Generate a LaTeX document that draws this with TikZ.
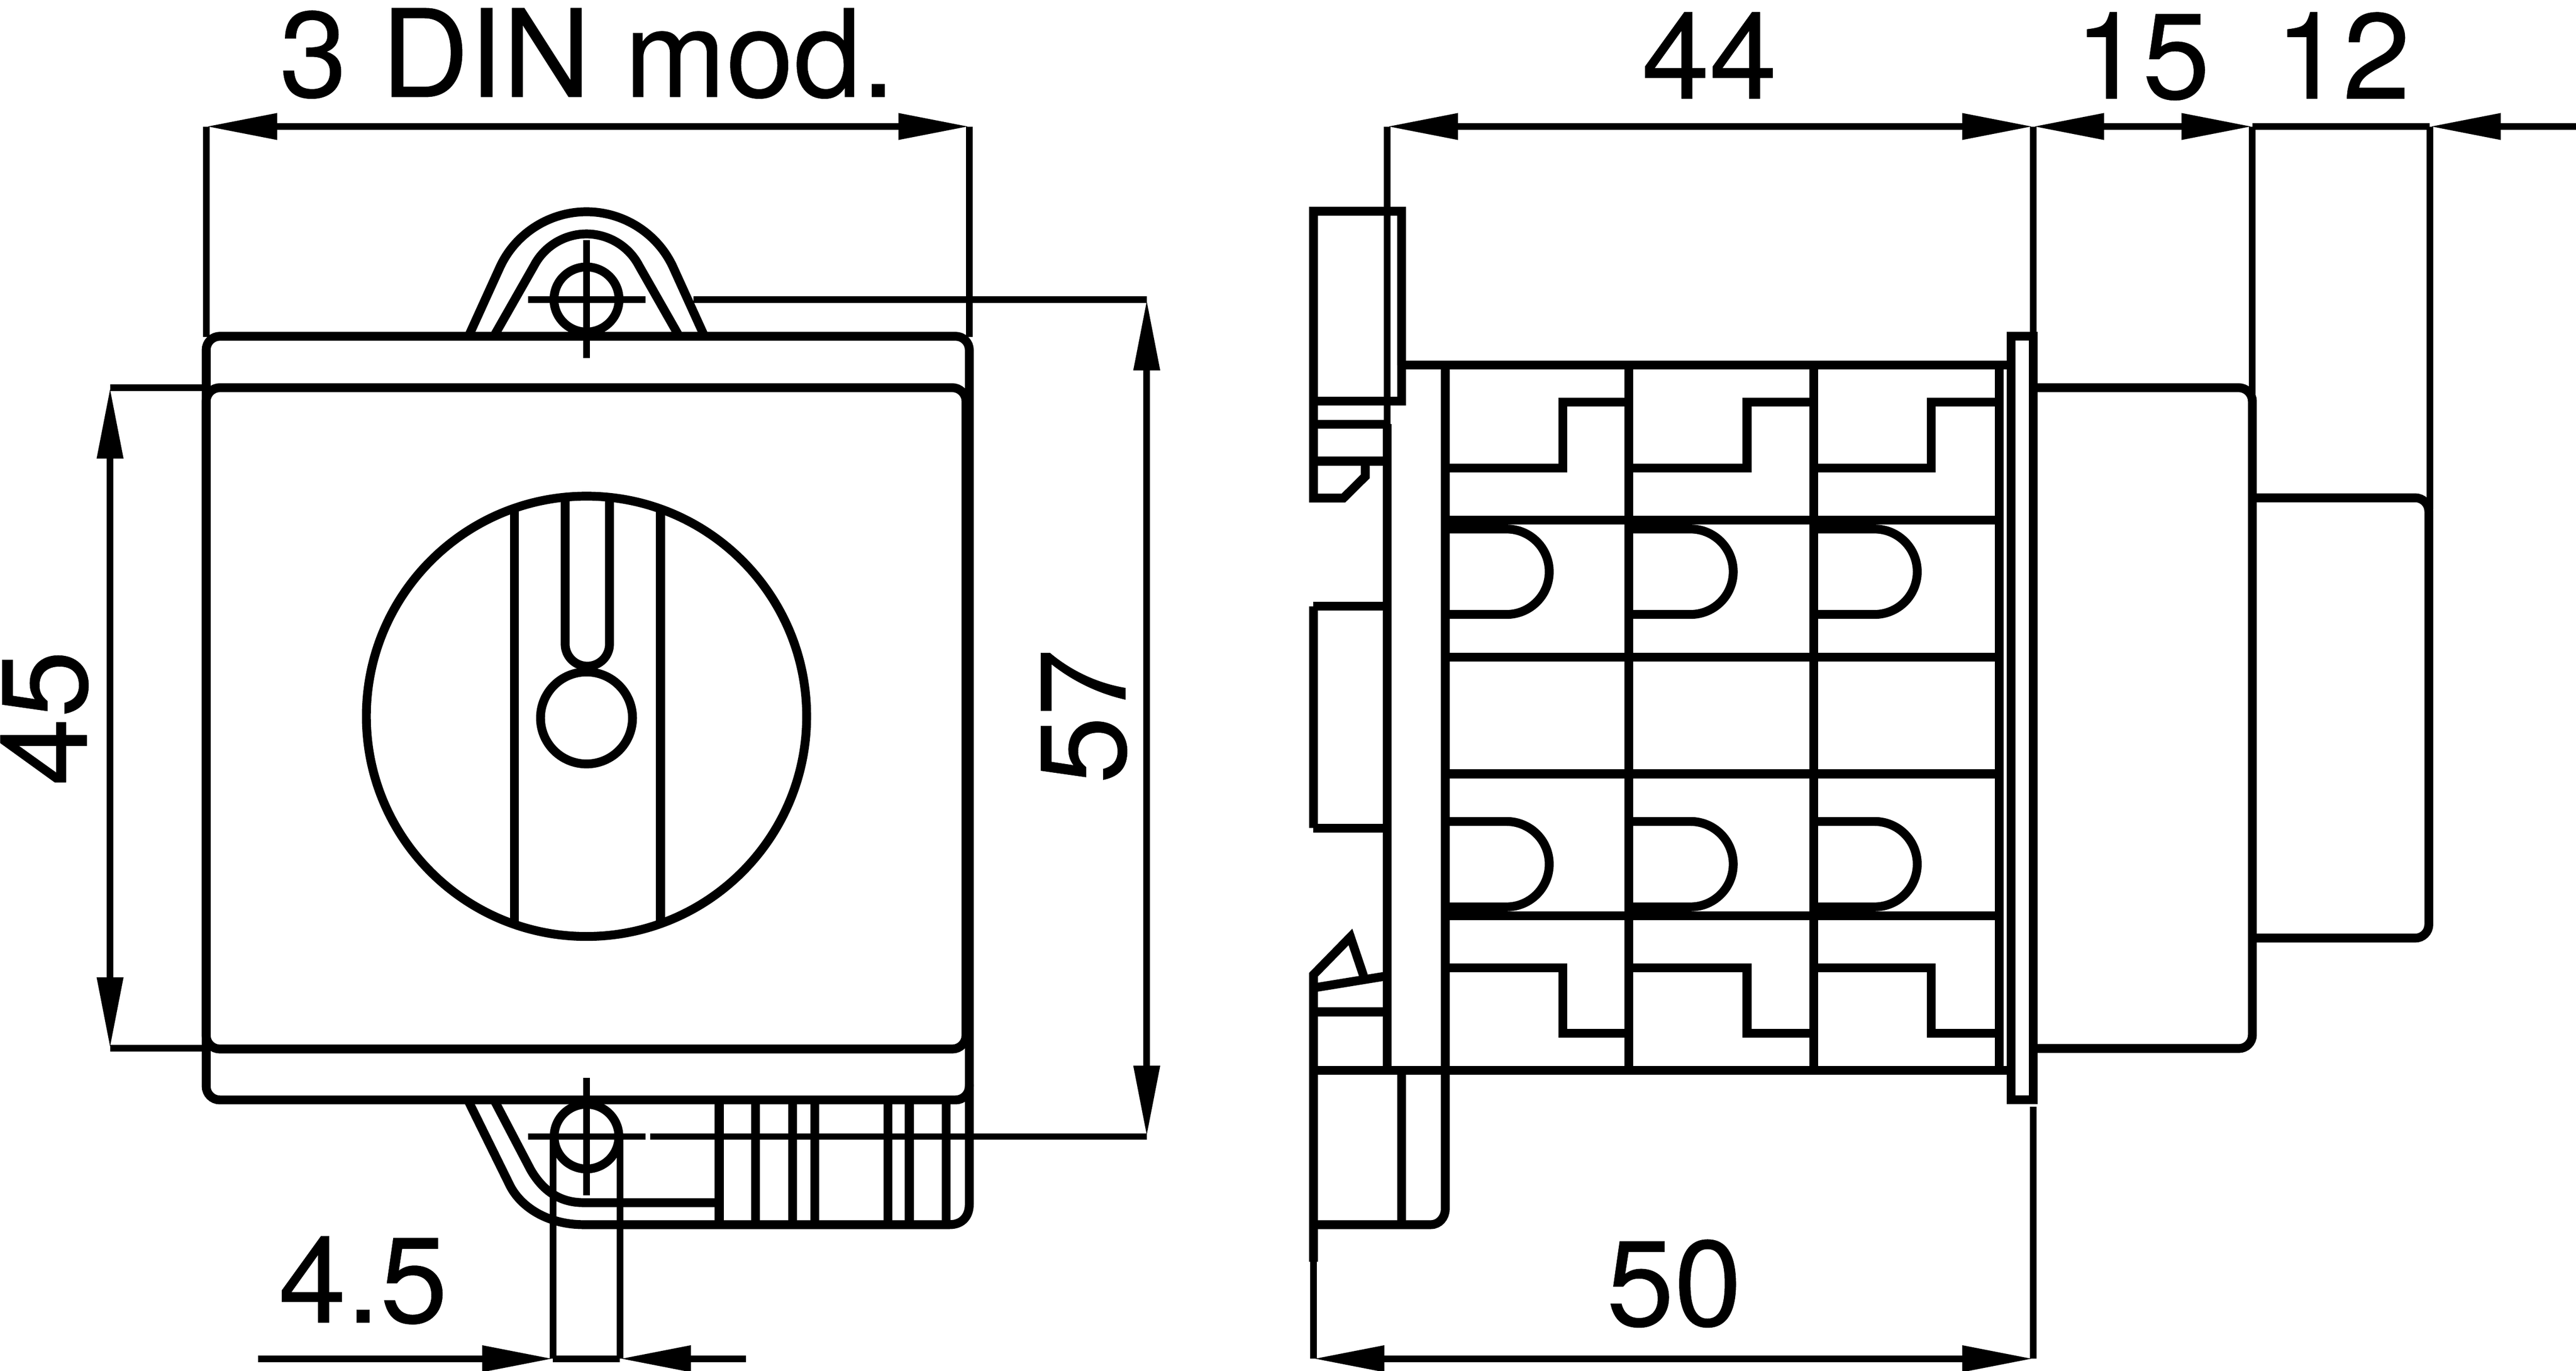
\documentclass[tikz,border=0pt]{standalone}
\usepackage{fontspec}
\setmainfont{TeX Gyre Heros}
\usetikzlibrary{arrows.meta}
\tikzset{every picture/.style={line width=1.95pt}}
\tikzset{heavy/.style={line width=1.95pt}}
\tikzset{thin line/.style={line width=1.45pt}}
\tikzset{dim/.style={line width=1.45pt,{Triangle[length=15.6pt,width=5.5pt]}-{Triangle[length=15.6pt,width=5.5pt]}}}
\tikzset{dim end/.style={line width=1.45pt,-{Triangle[length=15.6pt,width=5.5pt]}}}
\tikzset{dim text/.style={inner sep=0pt,font=\fontsize{26.8}{30}\selectfont\addfontfeature{FakeBold=0.25}}}

\begin{document}
\begin{tikzpicture}[x=0.36155pt,y=0.36155pt,yscale=-1,xscale=1]
\useasboundingbox (0,0) rectangle (1568,834.2);

%Front view: housing
\draw [heavy,rounded corners=3pt] (125.5,204.7) rectangle (590,669.5);
\draw [heavy,rounded corners=3pt] (125.5,236) rectangle (588,638.5);
%Top lug
\draw [heavy] (285.5,204) -- (304.4,162.4) .. controls (313.9,142) and (334.5,128.9) .. (357,128.9) .. controls (379.5,128.9) and (400.1,142) .. (409.6,162.4) -- (428.5,204);
\draw [heavy] (301,204) -- (325.2,161.5) .. controls (331.4,149.8) and (343.7,142.4) .. (357,142.4) .. controls (370.3,142.4) and (382.6,149.8) .. (388.8,161.5) -- (413,204);
\draw [heavy] (357,182.3) circle [radius=19.8];
\draw [thin line] (357,146.2) -- (357,218);
\draw [thin line] (321.3,182.3) -- (392.8,182.3);
%Bottom lug
\draw [heavy] (285,670) -- (310.6,722) .. controls (318,736) and (335,745.4) .. (355,745.4) -- (578,745.4) .. controls (586,745.4) and (590,740) .. (590,733) -- (590,660);
\draw [heavy] (301,670) -- (323,712) .. controls (330,724) and (340,732) .. (355,732) -- (438,732);
\draw [heavy] (357,691.8) circle [radius=19.7];
\draw [thin line] (357,656) -- (357,727.7);
\draw [thin line] (321.3,691.8) -- (393,691.8);
%Ribs
\draw [heavy] (437.8,669.5) -- (437.8,745.4);
\draw [heavy] (460,669.5) -- (460,745.4);
\draw [heavy] (482.4,669.5) -- (482.4,745.4);
\draw [heavy] (496,669.5) -- (496,745.4);
\draw [heavy] (540.5,669.5) -- (540.5,745.4);
\draw [heavy] (553.5,669.5) -- (553.5,745.4);
\draw [heavy] (576,669.5) -- (576,745.4);
%Knob
\draw [heavy] (357,436) circle [radius=134];
\draw [heavy] (313,309) -- (313,563);
\draw [heavy] (402,309) -- (402,563);
\draw [heavy] (344,303) -- (344,392) arc [start angle=180,end angle=0,radius=13.5] -- (371,303);
\draw [heavy] (357,437) circle [radius=28];

%Front view: dimensions
\draw [dim] (125.5,77) -- (590,77);
\draw [thin line] (125.5,77) -- (125.5,205);
\draw [thin line] (590,77) -- (590,205);
\draw [dim] (67,236) -- (67,638);
\draw [thin line] (67,236) -- (125,236);
\draw [thin line] (67,638) -- (125,638);
\draw [dim] (698,182.3) -- (698,691.8);
\draw [thin line] (422.2,182.3) -- (698,182.3);
\draw [thin line] (395.8,691.8) -- (698,691.8);
\draw [thin line] (336.6,691.8) -- (336.6,827);
\draw [thin line] (377.4,691.8) -- (377.4,827);
\draw [dim end] (157,827) -- (336.6,827);
\draw [dim end] (454,827) -- (377.4,827);
\draw [thin line] (336.6,827) -- (377.4,827);

%Side view: clip
\draw [heavy] (853.1,222.3) -- (853.1,128.6) -- (799.5,128.6) -- (799.5,303.2) -- (817.7,303.2) -- (831,290) -- (831,280.7);
\draw [heavy] (799.5,244.1) -- (853.1,244.1) -- (853.1,222.3);
\draw [heavy] (799.5,258.2) -- (844.3,258.2);
\draw [heavy] (799.5,280.7) -- (844.3,280.7);
\draw [heavy] (844.3,258.2) -- (844.3,651.5);
\draw [heavy] (799.5,369) -- (844.3,369);
\draw [heavy] (799.5,504) -- (844.3,504);
\draw [heavy] (799.5,369) -- (799.5,504);
\draw [heavy] (799.5,768) -- (799.5,593.3) -- (822,570.3) -- (830,594);
\draw [heavy] (799.5,601.3) -- (844.3,594);
\draw [heavy] (799.5,615.9) -- (844.3,615.9);
%Base
\draw [heavy] (853.1,651.5) -- (853.1,745.4);
\draw [heavy] (799.5,745.4) -- (871,745.4) .. controls (876,745.4) and (879.7,741) .. (879.7,736) -- (879.7,222.3);
%Contact block
\draw [heavy] (853.1,222.3) -- (1224,222.3);
\draw [heavy] (799.5,651.5) -- (1224,651.5);
\draw [heavy] (991.4,222.3) -- (991.4,651.5);
\draw [heavy] (1104,222.3) -- (1104,651.5);
\draw [heavy] (1217,222.3) -- (1217,651.5);
\draw [heavy] (879.7,316.5) -- (1217,316.5);
\draw [heavy] (879.7,400) -- (1217,400);
\draw [heavy] (879.7,471) -- (1217,471);
\draw [heavy] (879.7,557.5) -- (1217,557.5);
%Upper steps
\draw [heavy] (879.7,285) -- (951.4,285) -- (951.4,244.7) -- (991.4,244.7);
\draw [heavy] (991.4,285) -- (1063.4,285) -- (1063.4,244.7) -- (1104,244.7);
\draw [heavy] (1104,285) -- (1175.4,285) -- (1175.4,244.7) -- (1217,244.7);
%Lower steps
\draw [heavy] (879.7,589) -- (951.4,589) -- (951.4,629) -- (991.4,629);
\draw [heavy] (991.4,589) -- (1063.4,589) -- (1063.4,629) -- (1104,629);
\draw [heavy] (1104,589) -- (1175.4,589) -- (1175.4,629) -- (1217,629);
%Upper terminals
\draw [heavy] (879.7,322) -- (917,322) arc [start angle=-90,end angle=90,radius=26] -- (879.7,374);
\draw [heavy] (991.4,322) -- (1029,322) arc [start angle=-90,end angle=90,radius=26] -- (991.4,374);
\draw [heavy] (1104,322) -- (1141,322) arc [start angle=-90,end angle=90,radius=26] -- (1104,374);
%Lower terminals
\draw [heavy] (879.7,500) -- (917,500) arc [start angle=-90,end angle=90,radius=26] -- (879.7,552);
\draw [heavy] (991.4,500) -- (1029,500) arc [start angle=-90,end angle=90,radius=26] -- (991.4,552);
\draw [heavy] (1104,500) -- (1141,500) arc [start angle=-90,end angle=90,radius=26] -- (1104,552);
%Plate
\draw [heavy] (1224,204.7) rectangle (1237.5,669.5);
%Front part
\draw [heavy,rounded corners=3pt] (1237.5,236) -- (1371,236) -- (1371,638.2) -- (1237.5,638.2);
\draw [heavy,rounded corners=3pt] (1371,303) -- (1478.4,303) -- (1478.4,571) -- (1371,571);

%Side view: dimensions
\draw [dim] (844.3,77) -- (1237.5,77);
\draw [dim] (1237.5,77) -- (1371,77);
\draw [thin line] (1371,77) -- (1479,77);
\draw [dim end] (1568,77) -- (1479,77);
\draw [thin line] (844.3,77) -- (844.3,258.2);
\draw [thin line] (1237.5,77) -- (1237.5,205);
\draw [thin line] (1371,77) -- (1371,240);
\draw [thin line] (1479,77) -- (1479,310);
\draw [thin line] (1237.5,673.7) -- (1237.5,827);
\draw [thin line] (799.5,768) -- (799.5,827);
\draw [dim] (799.5,827) -- (1237.5,827);

% Text Node
\draw (357.5,59) node (widthlabel) [dim text,anchor=base] {3 DIN mod.};
% Text Node
\draw (52.8,437) node (heightlabel) [dim text,anchor=base,rotate=90] {45};
% Text Node
\draw (685,436) node (totallabel) [dim text,anchor=base,rotate=90] {57};
% Text Node
\draw (1040.5,60) node (depthlabel) [dim text,anchor=base] {44};
% Text Node
\draw (1304,60) node (platelabel) [dim text,anchor=base] {15};
% Text Node
\draw (1426,60) node (knoblabel) [dim text,anchor=base] {12};
% Text Node
\draw (1019,807) node (baselabel) [dim text,anchor=base] {50};
% Text Node
\draw (221,805) node (holelabel) [dim text,anchor=base] {4.5};

\end{tikzpicture}
\end{document}
